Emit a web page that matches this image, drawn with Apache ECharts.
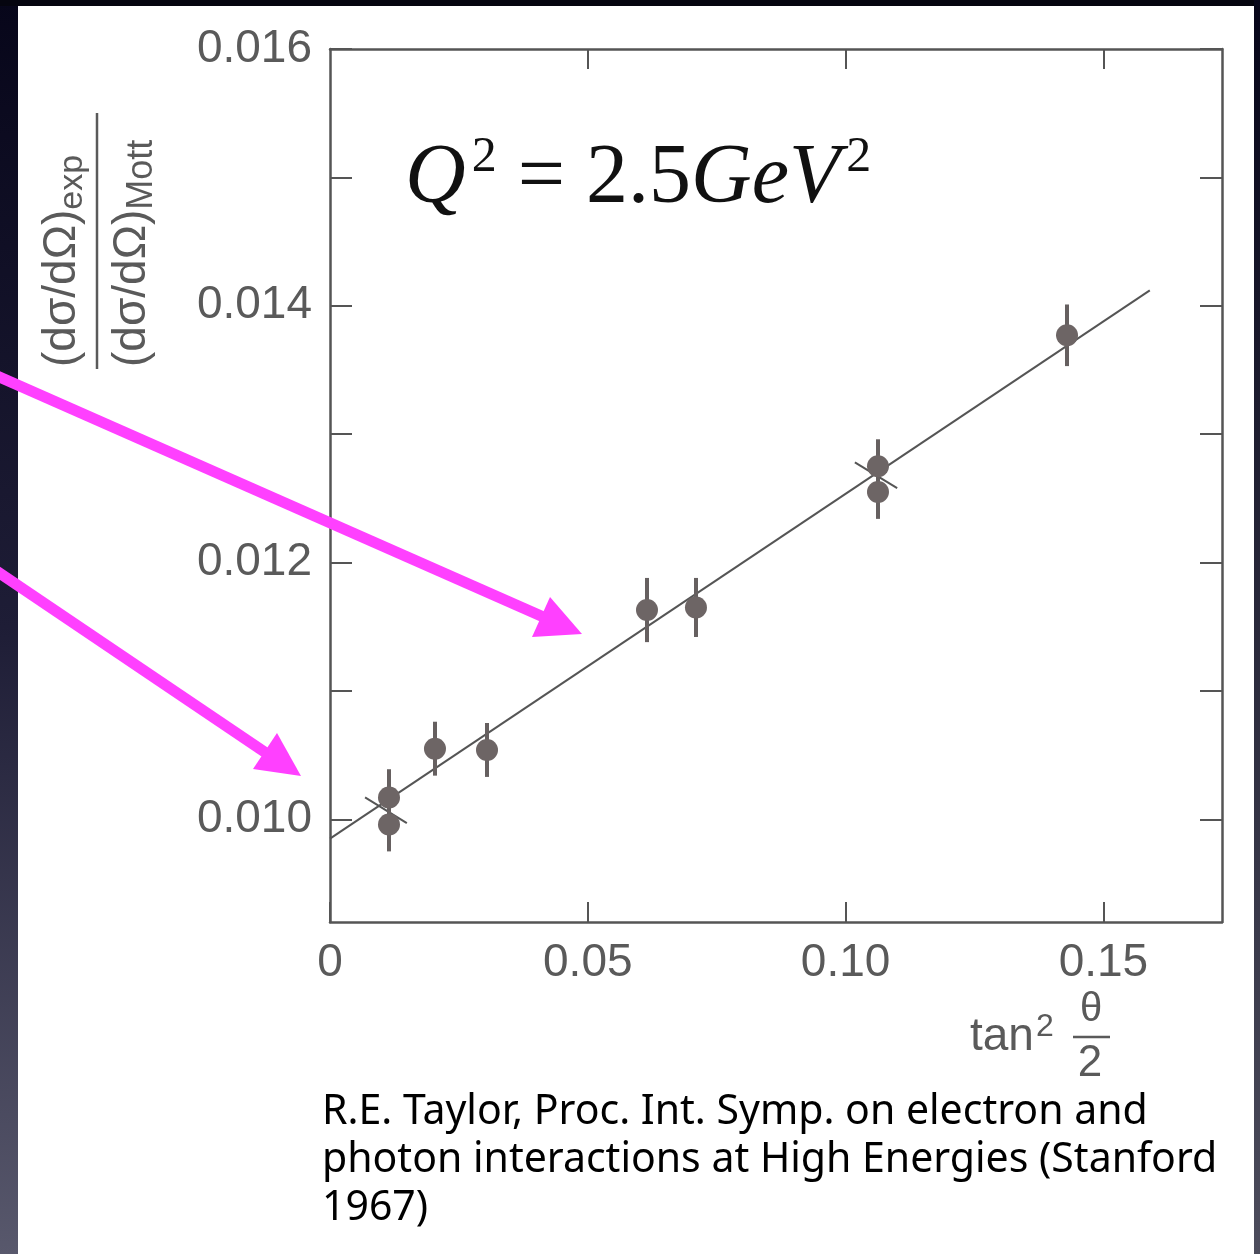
<!DOCTYPE html>
<html><head><meta charset="utf-8">
<script src="https://cdn.jsdelivr.net/npm/echarts@6/dist/echarts.min.js"></script>
<style>html,body{margin:0;padding:0;background:#fff}#c{width:1260px;height:1254px}</style>
</head><body><div id="c"></div>
<script>
// ---- data ----
const xValues = [0.01144, 0.01144, 0.02036, 0.03045, 0.06148, 0.07098, 0.10628, 0.10628, 0.14294];
const yValues = [0.01017, 0.00996, 0.01055, 0.01054, 0.01163, 0.01165, 0.01275, 0.01255, 0.01377];
const yErrors = [0.00022, 0.00021, 0.00021, 0.00021, 0.00025, 0.00023, 0.00021, 0.00021, 0.00024];
const fitX = [0, 0.1590];
const fitY = [0.00985, 0.01412];
const crossStartX = [0.0068, 0.1018];
const crossStartY = [0.01017, 0.01278];
const crossEndX = [0.0149, 0.1100];
const crossEndY = [0.00997, 0.01258];
const xTickValues = [0, 0.05, 0.10, 0.15];
const xTopTickValues = [0.05, 0.10, 0.15];
const xTickLabels = ['0', '0.05', '0.10', '0.15'];
const yTickValues = [0.010, 0.011, 0.012, 0.013, 0.014, 0.015, 0.016];
const yLabelValues = [0.010, 0.012, 0.014, 0.016];
const yTickLabels = ['0.010', '0.012', '0.014', '0.016'];
const captionLines = ['R.E. Taylor, Proc. Int. Symp. on electron and', 'photon interactions at High Energies (Stanford', '1967)'];

const AX = '#555555';
const LBL = '#5a5a5a';
const SANS = '"Liberation Sans", Arial, sans-serif';
const SERIF = '"Liberation Serif", "DejaVu Serif", serif';
const PINK = '#ff40ff';

function nearestLabel(v, vals, labels) {
  let best = 0;
  for (let i = 1; i < vals.length; i++) if (Math.abs(vals[i] - v) < Math.abs(vals[best] - v)) best = i;
  return labels[best];
}

const pointData = xValues.map((x, i) => [x, yValues[i]]);
const errData = xValues.map((x, i) => [x, yValues[i], yErrors[i]]);
const crossData = crossStartX.map((x, i) => [x, crossStartY[i], crossEndX[i], crossEndY[i]]);
const fitData = fitX.map((x, i) => [x, fitY[i]]);

const chart = echarts.init(document.getElementById('c'), null, {renderer: 'canvas'});
const option = {
  animation: false,
  backgroundColor: '#ffffff',
  grid: {left: 330, top: 49, right: 38, bottom: 332, containLabel: false},
  xAxis: [{
    type: 'value', min: 0, max: 0.173, position: 'bottom',
    axisLine: {show: true, onZero: false, lineStyle: {color: AX, width: 2.5}},
    axisTick: {show: true, inside: true, length: 20, customValues: xTickValues, lineStyle: {color: AX, width: 2}},
    axisLabel: {show: true, customValues: xTickValues, margin: 18, fontSize: 46, fontFamily: SANS, color: LBL,
      formatter: v => nearestLabel(v, xTickValues, xTickLabels)},
    splitLine: {show: false}
  }, {
    type: 'value', min: 0, max: 0.173, position: 'top',
    axisLine: {show: true, onZero: false, lineStyle: {color: AX, width: 2.5}},
    axisTick: {show: true, inside: true, length: 20, customValues: xTopTickValues, lineStyle: {color: AX, width: 2}},
    axisLabel: {show: false},
    splitLine: {show: false}
  }],
  yAxis: [{
    type: 'value', min: 0.0092, max: 0.016, position: 'left',
    axisLine: {show: true, onZero: false, lineStyle: {color: AX, width: 2.5}},
    axisTick: {show: true, inside: true, length: 22, customValues: yTickValues, lineStyle: {color: AX, width: 2}},
    axisLabel: {show: true, customValues: yLabelValues, margin: 18, fontSize: 46, fontFamily: SANS, color: LBL,
      showMaxLabel: true, formatter: v => nearestLabel(v, yLabelValues, yTickLabels)},
    splitLine: {show: false}
  }, {
    type: 'value', min: 0.0092, max: 0.016, position: 'right',
    axisLine: {show: true, onZero: false, lineStyle: {color: AX, width: 2.5}},
    axisTick: {show: true, inside: true, length: 22, customValues: yTickValues, lineStyle: {color: AX, width: 2}},
    axisLabel: {show: false},
    splitLine: {show: false}
  }],
  series: [{
    type: 'line', data: fitData, showSymbol: false, symbol: 'none', z: 2,
    lineStyle: {color: '#555555', width: 2}
  }, {
    type: 'custom', data: crossData, z: 3,
    renderItem: (params, api) => {
      const p1 = api.coord([api.value(0), api.value(1)]);
      const p2 = api.coord([api.value(2), api.value(3)]);
      return {type: 'line', shape: {x1: p1[0], y1: p1[1], x2: p2[0], y2: p2[1]}, style: {stroke: '#555555', lineWidth: 2}};
    }
  }, {
    type: 'custom', data: errData, z: 4,
    renderItem: (params, api) => {
      const x = api.value(0), y = api.value(1), e = api.value(2);
      const p1 = api.coord([x, y + e]);
      const p2 = api.coord([x, y - e]);
      return {type: 'line', shape: {x1: p1[0], y1: p1[1], x2: p2[0], y2: p2[1]}, style: {stroke: '#666060', lineWidth: 4}};
    }
  }, {
    type: 'scatter', data: pointData, symbol: 'circle', symbolSize: 22, z: 5,
    itemStyle: {color: '#6d6565', opacity: 1}
  }],
  graphic: [
    // dark slide background strips
    {type: 'rect', z: 1, shape: {x: 0, y: 0, width: 18, height: 1254},
      style: {fill: new echarts.graphic.LinearGradient(0, 0, 0, 1, [{offset: 0, color: '#07061a'}, {offset: 0.5, color: '#1e1d36'}, {offset: 1, color: '#58586c'}])}},
    {type: 'rect', z: 1, shape: {x: 0, y: 0, width: 1260, height: 6}, style: {fill: '#05050f'}},
    {type: 'rect', z: 1, shape: {x: 1254, y: 0, width: 6, height: 1254},
      style: {fill: new echarts.graphic.LinearGradient(0, 0, 0, 1, [{offset: 0, color: '#07061a'}, {offset: 1, color: '#4c4c5c'}])}},
    // Q^2 annotation
    {type: 'text', z: 10, x: 405, y: 180,
      style: {text: '{i|Q}{s|2}{n| = 2.5}{i|GeV}{s|2}', verticalAlign: 'middle', align: 'left',
        rich: {
          i: {fontFamily: SERIF, fontStyle: 'italic', fontSize: 84, lineHeight: 94, fill: '#111'},
          n: {fontFamily: SERIF, fontSize: 84, lineHeight: 94, fill: '#111'},
          s: {fontFamily: SERIF, fontSize: 50, lineHeight: 50, verticalAlign: 'top', padding: [0, 0, 0, 6], fill: '#111'}
        }}},
    // y-axis title (rotated fraction)
    {type: 'group', x: 100, y: 367, rotation: Math.PI / 2, z: 10, children: [
      {type: 'text', x: 0, y: -38,
        style: {text: '{m|(dσ/dΩ)}{s|exp}', align: 'left', verticalAlign: 'middle',
          rich: {m: {fontFamily: SANS, fontSize: 46, lineHeight: 56, fill: LBL},
                 s: {fontFamily: SANS, fontSize: 34, lineHeight: 36, verticalAlign: 'bottom', fill: LBL}}}},
      {type: 'line', shape: {x1: -2, y1: -3, x2: 254, y2: -3}, style: {stroke: LBL, lineWidth: 2.5}},
      {type: 'text', x: 0, y: 32,
        style: {text: '{m|(dσ/dΩ)}{s|Mott}', align: 'left', verticalAlign: 'middle',
          rich: {m: {fontFamily: SANS, fontSize: 46, lineHeight: 56, fill: LBL},
                 s: {fontFamily: SANS, fontSize: 36, lineHeight: 36, verticalAlign: 'bottom', fill: LBL}}}}
    ]},
    // x-axis name tan^2(theta/2)
    {type: 'text', z: 10, x: 970, y: 1037, style: {text: 'tan', font: '46px ' + SANS, fill: LBL, align: 'left', verticalAlign: 'middle'}},
    {type: 'text', z: 10, x: 1036, y: 1027, style: {text: '2', font: '32px ' + SANS, fill: LBL, align: 'left', verticalAlign: 'middle'}},
    {type: 'text', z: 10, x: 1091, y: 1010, style: {text: 'θ', font: '40px ' + SANS, fill: LBL, align: 'center', verticalAlign: 'middle'}},
    {type: 'line', z: 10, shape: {x1: 1073, y1: 1037, x2: 1110, y2: 1037}, style: {stroke: LBL, lineWidth: 2.5}},
    {type: 'text', z: 10, x: 1090, y: 1064, style: {text: '2', font: '44px ' + SANS, fill: LBL, align: 'center', verticalAlign: 'middle'}},
    // caption
    {type: 'text', z: 10, x: 322, y: 1088, style: {text: captionLines.join('\n'), font: '41px "Noto Sans", sans-serif', lineHeight: 48, fill: '#000', align: 'left', verticalAlign: 'top'}},
    // pink arrows
    {type: 'line', z: 100, shape: {x1: -5, y1: 375, x2: 548, y2: 619}, style: {stroke: PINK, lineWidth: 11}},
    {type: 'polygon', z: 100, shape: {points: [[582, 634], [550, 597], [532, 637]]}, style: {fill: PINK}},
    {type: 'line', z: 100, shape: {x1: -5, y1: 570, x2: 272, y2: 757}, style: {stroke: PINK, lineWidth: 11}},
    {type: 'polygon', z: 100, shape: {points: [[301, 776], [277, 733], [253, 769]]}, style: {fill: PINK}}
  ]
};
chart.setOption(option);
</script></body></html>
